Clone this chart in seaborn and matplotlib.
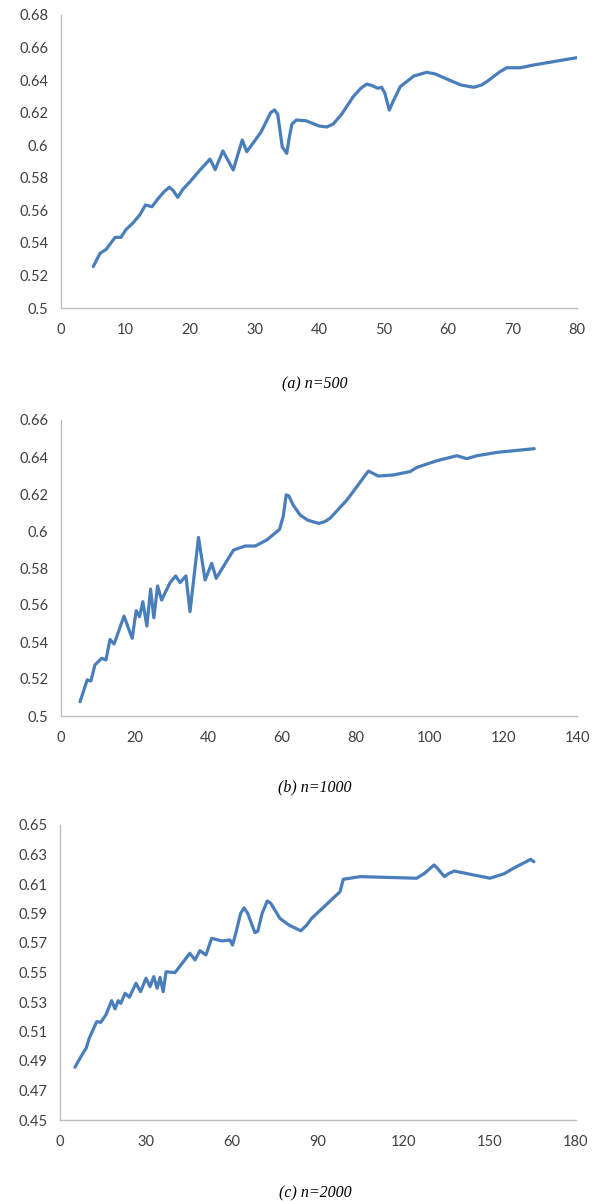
import matplotlib
matplotlib.use("Agg")
import matplotlib.pyplot as plt
import seaborn as sns
import pandas as pd

# ---- data ----
x_a = [5, 6.05, 7, 7.9, 8.4, 9.3, 10.1, 11.1, 12.2, 13.1, 14.1, 15.1, 16, 16.8, 17.4, 18.1, 18.9, 20,
       21.5, 23.1, 23.9, 25.1, 26.7, 28.1, 28.8, 31, 32.5, 33.1, 33.6, 34.3, 35, 35.4, 35.8, 36.5, 38,
       40, 41.2, 42.2, 43.5, 45.3, 46.5, 47.4, 48.3, 49.1, 49.7, 50.2, 50.9, 51.5, 52.6, 54.7, 56.7,
       58, 59.8, 62, 64, 65.2, 66, 68, 69.1, 71.2, 73.3, 80]
y_a = [0.5254, 0.5336, 0.536, 0.5408, 0.5434, 0.5434, 0.5483, 0.552, 0.5571, 0.5633, 0.5622, 0.5674,
       0.5715, 0.5742, 0.5721, 0.568, 0.5729, 0.5776, 0.5845, 0.5915, 0.585, 0.5965, 0.5848, 0.6032,
       0.596, 0.608, 0.620, 0.6217, 0.619, 0.599, 0.595, 0.605, 0.613, 0.6155, 0.615,
       0.6118, 0.6112, 0.613, 0.619, 0.6298, 0.635, 0.6376, 0.6365, 0.635, 0.6356, 0.632, 0.6216,
       0.627, 0.636, 0.6425, 0.6448, 0.6438, 0.6407, 0.637, 0.6356, 0.637, 0.639, 0.645, 0.6476,
       0.6476, 0.6493, 0.6538]

x_b = [5.16, 7.1, 8.1, 9.2, 11.05, 12.2, 13.3, 14.4, 17.1, 19.3, 20.4, 21.3, 22.2, 23.3, 24.3, 25.2,
       26.2, 27.3, 29.6, 31.1, 32.3, 33.9, 35, 37.3, 39.1, 40.9, 42.1, 46.8, 50, 52.7, 55.8, 59.3, 60.3,
       61.1, 61.8, 63, 64.9, 67, 69.9, 71.5, 73, 77.6, 83.4, 86.1, 90.2, 94.7, 96.6, 102, 107.4, 110.1,
       112.9, 118.3, 128.4]
y_b = [0.5077, 0.5195, 0.5189, 0.5276, 0.5312, 0.5303, 0.5414, 0.5389, 0.554, 0.542, 0.5569, 0.5537,
       0.5618, 0.5486, 0.5686, 0.5531, 0.5703, 0.5627, 0.5721, 0.5757, 0.5721, 0.5757, 0.5564, 0.5965,
       0.5735, 0.5825, 0.5744, 0.5897, 0.5919, 0.5919, 0.5951, 0.6009, 0.608, 0.6195, 0.619, 0.614,
       0.6086, 0.6058, 0.6041, 0.605, 0.6069, 0.6168, 0.6324, 0.6297, 0.6303, 0.6321, 0.6344, 0.638,
       0.6407, 0.6391, 0.6407, 0.6425, 0.6445]

x_c = [5.2, 7.6, 9.1, 10.2, 12.8, 14.2, 16, 18, 19.2, 20.3, 21.2, 22.7, 24.2, 26.5, 28.1, 30, 31.4,
       32.7, 33.9, 34.9, 36, 37, 40.1, 45.3, 47.1, 48.8, 50.9, 52.9, 56.4, 59.3, 60.2, 61.5, 63, 64.2,
       65.5, 68, 69, 70.5, 72.3, 73.5, 76.7, 80, 84, 86, 87.8, 97.7, 98.8, 104.7, 124.4, 127, 130.5,
       131.5, 134.1, 135.5, 137.5, 150, 155, 158.1, 164.2, 165.3]
y_c = [0.4857, 0.494, 0.4986, 0.5054, 0.5167, 0.5162, 0.5212, 0.5309, 0.5253, 0.5309, 0.5291, 0.5359,
       0.5332, 0.5427, 0.537, 0.5461, 0.5404, 0.5472, 0.5393, 0.5467, 0.537, 0.5505, 0.5499, 0.563,
       0.5585, 0.5648, 0.5619, 0.5732, 0.5714, 0.572, 0.5686, 0.578, 0.590, 0.5939, 0.590, 0.577,
       0.578, 0.590, 0.5985, 0.597, 0.5867, 0.582, 0.5783, 0.582, 0.5867, 0.6048, 0.6132, 0.615,
       0.6139, 0.617, 0.6229, 0.621, 0.615, 0.617, 0.6188, 0.6139, 0.617, 0.6206, 0.6267, 0.6251]

xticks_a = [0, 10, 20, 30, 40, 50, 60, 70, 80]
yticks_a = [0.5, 0.52, 0.54, 0.56, 0.58, 0.6, 0.62, 0.64, 0.66, 0.68]
xticks_b = [0, 20, 40, 60, 80, 100, 120, 140]
yticks_b = [0.5, 0.52, 0.54, 0.56, 0.58, 0.6, 0.62, 0.64, 0.66]
xticks_c = [0, 30, 60, 90, 120, 150, 180]
yticks_c = [0.45, 0.47, 0.49, 0.51, 0.53, 0.55, 0.57, 0.59, 0.61, 0.63, 0.65]

captions = ["(a) n=500", "(b) n=1000", "(c) n=2000"]

sns.set_theme(style="white")
plt.rcParams["font.family"] = ["Lato", "DejaVu Sans"]

fig = plt.figure(figsize=(5.97, 12.04), dpi=100)
W, H = 597, 1204
boxes = [(61, 15, 577, 308), (61, 420, 577, 716), (60, 825, 576, 1120)]
caption_y = [384, 787, 1193]
panels = [(x_a, y_a, xticks_a, yticks_a), (x_b, y_b, xticks_b, yticks_b), (x_c, y_c, xticks_c, yticks_c)]

line_color = "#4A7EBB"
axis_gray = "#BFBFBF"
label_color = "#404040"

def fmt(v):
    return f"{v:.2f}".rstrip("0").rstrip(".")

for (l, t, r, b), (xs, ys, xt, yt), cap, cy in zip(boxes, panels, captions, caption_y):
    ax = fig.add_axes([l / W, 1 - b / H, (r - l) / W, (b - t) / H])
    df = pd.DataFrame({"x": xs, "y": ys})
    sns.lineplot(data=df, x="x", y="y", ax=ax, color=line_color, linewidth=2.3,
                 estimator=None, sort=False)
    for ln in ax.lines:
        ln.set_solid_joinstyle("round")
        ln.set_solid_capstyle("round")
    ax.set_xlim(xt[0], xt[-1])
    ax.set_ylim(yt[0], yt[-1])
    ax.set_xticks(xt)
    ax.set_yticks(yt)
    ax.set_xticklabels([str(v) for v in xt])
    ax.set_yticklabels([fmt(v) for v in yt])
    ax.set_xlabel("")
    ax.set_ylabel("")
    for side in ["top", "right"]:
        ax.spines[side].set_visible(False)
    for side in ["left", "bottom"]:
        ax.spines[side].set_color(axis_gray)
        ax.spines[side].set_linewidth(1.0)
    ax.tick_params(axis="both", which="major", direction="out", length=4, width=1,
                   color=axis_gray, labelcolor=label_color, labelsize=10.5, pad=5)
    ax.tick_params(axis="x", pad=7)
    ax.grid(False)
    ax.set_facecolor("white")
    fig.text(315 / W, 1 - cy / H, cap, ha="center", va="center", fontsize=11.5,
             family=["Liberation Serif", "DejaVu Serif"], style="italic", color="black")

fig.savefig("out.png", dpi=100, facecolor="white")
